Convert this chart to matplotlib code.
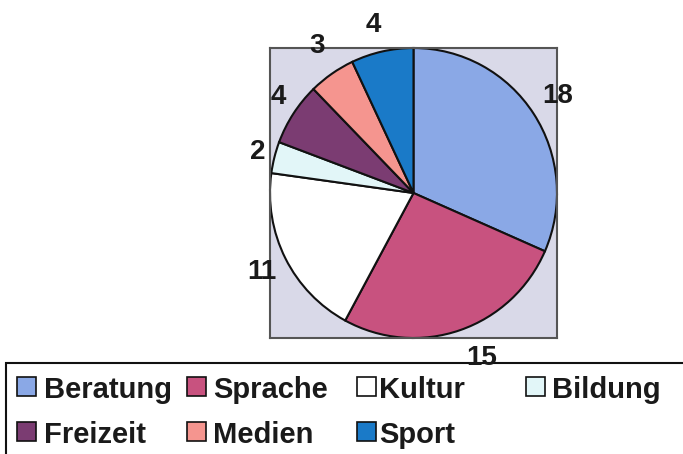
import matplotlib
matplotlib.use("Agg")
import numpy as np
import matplotlib.pyplot as plt
from matplotlib.patches import Rectangle

categories = ["Beratung", "Sprache", "Kultur", "Bildung", "Freizeit", "Medien", "Sport"]
values = [18, 15, 11, 2, 4, 3, 4]
colors = ["#8aa8e6", "#c8527f", "#ffffff", "#e2f6f8", "#7b3c72", "#f5958f", "#1a7ac8"]
# label placement (style): radial distance and angular nudge in degrees
label_dist = [1.21, 1.23, 1.19, 1.12, 1.15, 1.22, 1.19]
label_nudge = [0.5, 3.7, 0.4, -0.5, -1.9, -1.2, 0.9]

plt.rcParams['font.family'] = ['Liberation Sans', 'DejaVu Sans']

W, H = 683, 454
fig = plt.figure(figsize=(W / 100, H / 100), dpi=100)
fig.patch.set_facecolor("white")

# legend box (drawn beneath the pie axes so the "15" label sits on top of its border)
box_top = 363
fig.patches.append(Rectangle((6 / W, -0.05), 1.1, 1 - box_top / H + 0.05,
                             transform=fig.transFigure, facecolor="white",
                             edgecolor="#111111", linewidth=1.5, zorder=-1))

# plot area (pixel box 270..557 x 48..338)
left, right, top, bottom = 270, 557, 48, 338
ax = fig.add_axes([left / W, 1 - bottom / H, (right - left) / W, (bottom - top) / H])
ax.set_zorder(1)
wedges, texts = ax.pie(values, colors=colors, startangle=90, counterclock=False,
                       labels=[str(v) for v in values], labeldistance=1.2,
                       radius=1.0, frame=True,
                       wedgeprops=dict(edgecolor="#111111", linewidth=1.5),
                       textprops=dict(fontsize=20, fontweight="bold", color="#1a1a1a"))
for w, t, d, nd in zip(wedges, texts, label_dist, label_nudge):
    ang = np.deg2rad((w.theta1 + w.theta2) / 2 + nd)
    t.set_position((d * np.cos(ang), d * np.sin(ang)))
    t.set_clip_on(False)
    t.set_ha("center")
    t.set_va("center")
ax.set_facecolor("#d9d9e8")
ax.set_xlim(-1.0, 1.0)
ax.set_ylim(-1.0, 1.0)
ax.set_aspect("auto")
ax.set_xticks([])
ax.set_yticks([])
for s in ax.spines.values():
    s.set_visible(True)
    s.set_color("#555555")
    s.set_linewidth(1.5)

col_x = [17, 187, 357, 526]
text_off = [27, 26, 22, 26]
row_y = [386.5, 431]
sq = 19
for i, (cat, col) in enumerate(zip(categories, colors)):
    r, c = divmod(i, 4)
    x0 = col_x[c]
    yc = row_y[r]
    fig.patches.append(Rectangle((x0 / W, 1 - (yc + sq / 2) / H), sq / W, sq / H,
                                 transform=fig.transFigure, facecolor=col,
                                 edgecolor="#111111", linewidth=1.2, zorder=2))
    fig.text((x0 + text_off[c]) / W, 1 - (yc + 1) / H, cat, fontsize=21, fontweight="bold",
             color="#1a1a1a", ha="left", va="center_baseline", zorder=3)

fig.savefig("out.png", dpi=100)
